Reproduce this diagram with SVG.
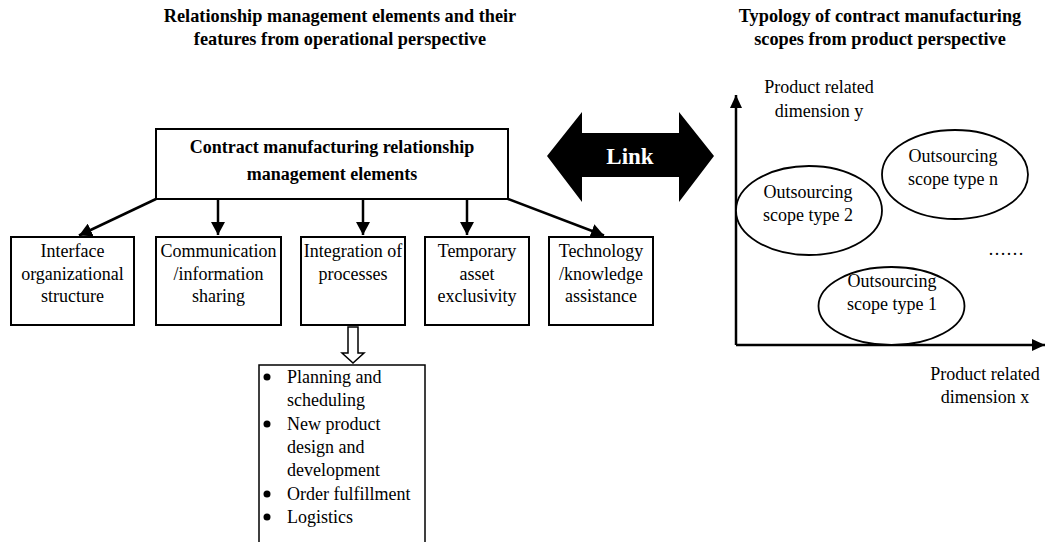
<svg xmlns="http://www.w3.org/2000/svg" width="1046" height="542" viewBox="0 0 1046 542">
<style>
text{font-family:"Liberation Serif",Tinos,"Times New Roman",serif;font-size:18px;fill:#000}
.t{font-weight:bold;font-size:18.3px;text-anchor:middle}
.b{font-weight:bold;text-anchor:middle}
.c{text-anchor:middle}
.box{fill:#fff;stroke:#000;stroke-width:2}
.ln{stroke:#000;stroke-width:2.5;fill:none}
.el{fill:#fff;stroke:#000;stroke-width:1.8}
</style>
<defs>
<marker id="ah" markerWidth="14" markerHeight="14" refX="13" refY="7" orient="auto" markerUnits="userSpaceOnUse">
<path d="M0,0 L13,7 L0,14 z" fill="#000"/>
</marker>
<marker id="ax" markerWidth="14" markerHeight="12" refX="13" refY="6" orient="auto" markerUnits="userSpaceOnUse">
<path d="M0,0 L13,6 L0,12 z" fill="#000"/>
</marker>
</defs>
<g id="titles">
<text class="t" x="340" y="22">Relationship management elements and their</text>
<text class="t" x="340" y="45">features from operational perspective</text>
<text class="t" x="880" y="22">Typology of contract manufacturing</text>
<text class="t" x="880" y="45">scopes from product perspective</text>
</g>
<g id="connectors">
<line class="ln" x1="156" y1="199" x2="79" y2="235.5" marker-end="url(#ah)"/>
<line class="ln" x1="218" y1="199" x2="218" y2="235" marker-end="url(#ah)"/>
<line class="ln" x1="363" y1="199" x2="363" y2="235" marker-end="url(#ah)"/>
<line class="ln" x1="467" y1="199" x2="467" y2="235" marker-end="url(#ah)"/>
<line class="ln" x1="508" y1="199" x2="604" y2="235.5" marker-end="url(#ah)"/>
<polygon points="348,327 358,327 358,353 364,353 353,363 342,353 348,353" fill="#fff" stroke="#000" stroke-width="1.5"/>
</g>
<g id="top">
<rect class="box" x="156" y="129" width="352" height="70"/>
<text class="b" x="332" y="153">Contract manufacturing relationship</text>
<text class="b" x="332" y="180">management elements</text>
</g>
<g id="n1">
<rect class="box" x="11" y="237" width="123" height="88"/>
<text class="c" x="72.5" y="257">Interface</text>
<text class="c" x="72.5" y="280">organizational</text>
<text class="c" x="72.5" y="302">structure</text>
</g>
<g id="n2">
<rect class="box" x="156" y="237" width="125" height="88"/>
<text class="c" x="218.5" y="257">Communication</text>
<text class="c" x="218.5" y="280">/information</text>
<text class="c" x="218.5" y="302">sharing</text>
</g>
<g id="n3">
<rect class="box" x="301" y="237" width="104" height="88"/>
<text class="c" x="353" y="257">Integration of</text>
<text class="c" x="353" y="280">processes</text>
</g>
<g id="n4">
<rect class="box" x="425" y="237" width="104" height="88"/>
<text class="c" x="477" y="257">Temporary</text>
<text class="c" x="477" y="280">asset</text>
<text class="c" x="477" y="302">exclusivity</text>
</g>
<g id="n5">
<rect class="box" x="549" y="237" width="104" height="88"/>
<text class="c" x="601" y="257">Technology</text>
<text class="c" x="601" y="280">/knowledge</text>
<text class="c" x="601" y="302">assistance</text>
</g>
<g id="list">
<rect x="259" y="365" width="166" height="180" fill="#fff" stroke="#000" stroke-width="1.5"/>
<circle cx="267" cy="377" r="3.5"/>
<circle cx="267" cy="424" r="3.5"/>
<circle cx="267" cy="494" r="3.5"/>
<circle cx="267" cy="517" r="3.5"/>
<text x="287" y="383">Planning and</text>
<text x="287" y="406">scheduling</text>
<text x="287" y="430">New product</text>
<text x="287" y="453">design and</text>
<text x="287" y="476">development</text>
<text x="287" y="500">Order fulfillment</text>
<text x="287" y="523">Logistics</text>
</g>
<g id="link">
<polygon points="547,156 582,112 582,133 679,133 679,112 714,156 679,202 679,177 582,177 582,202" fill="#000"/>
<text x="630" y="164" text-anchor="middle" font-weight="bold" style="fill:#fff;font-size:23px">Link</text>
</g>
<g id="chart">
<line class="ln" x1="736" y1="345" x2="736" y2="95" marker-end="url(#ax)"/>
<line class="ln" x1="736" y1="345" x2="1045" y2="345" marker-end="url(#ax)"/>
<text class="c" x="819" y="93">Product related</text>
<text class="c" x="819" y="117">dimension y</text>
<text class="c" x="985" y="380">Product related</text>
<text class="c" x="985" y="403">dimension x</text>
<text x="988" y="255">……</text>
</g>
<g id="e2">
<ellipse class="el" cx="809" cy="210.5" rx="73" ry="44.5"/>
<text class="c" x="808" y="198">Outsourcing</text>
<text class="c" x="808" y="221">scope type 2</text>
</g>
<g id="en">
<ellipse class="el" cx="955" cy="174.5" rx="73" ry="44.5"/>
<text class="c" x="953" y="162">Outsourcing</text>
<text class="c" x="953" y="185">scope type n</text>
</g>
<g id="e1">
<ellipse class="el" cx="891.5" cy="306" rx="73" ry="39"/>
<text class="c" x="892" y="287">Outsourcing</text>
<text class="c" x="892" y="310">scope type 1</text>
</g>
</svg>
